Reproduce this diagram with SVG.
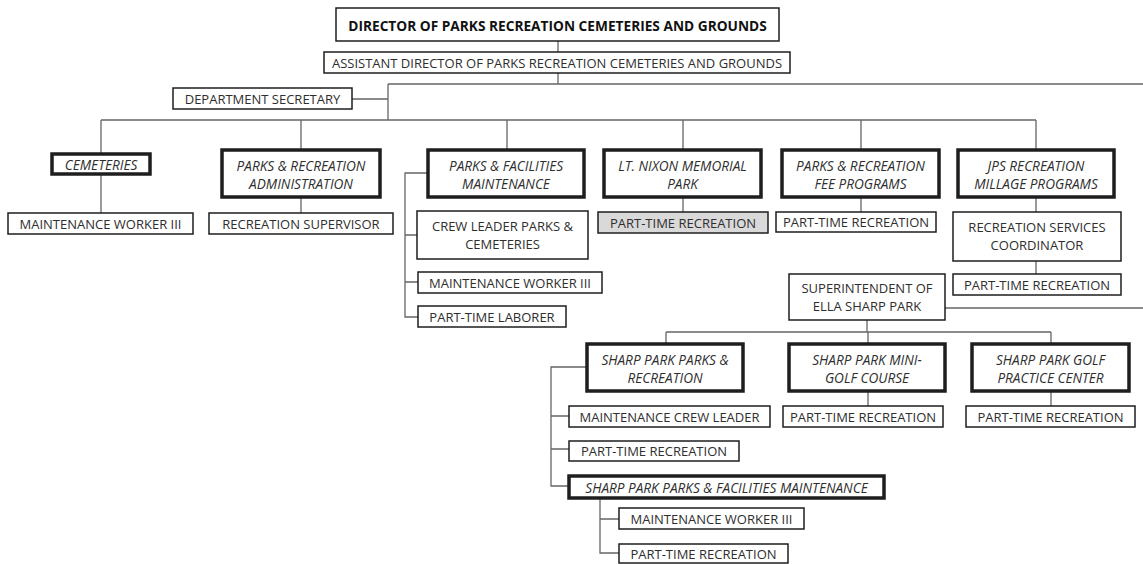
<svg xmlns="http://www.w3.org/2000/svg" width="1143" height="564" viewBox="0 0 1143 564">
<style>
.b{fill:#fff;stroke:#1e1e1e;stroke-width:1.5}
.k{stroke-width:3.5}
.g{fill:#d9d9d9}
.t{font-family:"Open Sans","Liberation Sans",sans-serif;font-size:13px;fill:#2e2e2e;text-anchor:middle;dominant-baseline:central}
.i{font-style:italic;font-size:13.6px}
.bd{font-weight:bold;font-size:13.7px;fill:#111}
.c{fill:none;stroke:#666;stroke-width:1.3}
</style>
<rect width="1143" height="564" fill="#fff"/>
<g id="connectors" class="c">
<path d="M558 41V52M558 73V84M388 84H1143M388 84V120M352 99H388M101 120H1036"/>
<path d="M101 120V154M301 120V150M507 120V150M683 120V150M861 120V150M1036 120V150"/>
<path d="M101 174V213M301 197V213M683 197V212M861 197V212M1036 197V212M1036 261V274"/>
<path d="M428 173H405V317H418M405 235H417M405 282H418"/>
<path d="M945 308H1143M867 320V332M666 332H1051M666 332V344M868 332V344M1051 332V344M868 391V406M1051 391V406"/>
<path d="M587 367H551V486H569M551 416H569M551 449H569M600 498V553H619M600 519H619"/>
</g>
<g id="director"><rect class="b" x="336" y="8" width="443" height="33"/><text class="t bd" x="557.5" y="25">DIRECTOR OF PARKS RECREATION CEMETERIES AND GROUNDS</text></g>
<g id="assistant"><rect class="b" x="324" y="52" width="466" height="21"/><text class="t" x="557" y="63">ASSISTANT DIRECTOR OF PARKS RECREATION CEMETERIES AND GROUNDS</text></g>
<g id="secretary"><rect class="b" x="173" y="88" width="179" height="21"/><text class="t" x="262.5" y="99">DEPARTMENT SECRETARY</text></g>
<g id="cemeteries"><rect class="b k" x="52" y="154" width="98" height="20"/><text class="t i" x="101" y="164">CEMETERIES</text></g>
<g id="pr-admin"><rect class="b k" x="222" y="150" width="158" height="47"/><text class="t i" x="301" y="165">PARKS &amp; RECREATION</text><text class="t i" x="301" y="183">ADMINISTRATION</text></g>
<g id="pf-maint"><rect class="b k" x="428" y="150" width="156" height="47"/><text class="t i" x="506" y="165">PARKS &amp; FACILITIES</text><text class="t i" x="506" y="183">MAINTENANCE</text></g>
<g id="nixon"><rect class="b k" x="604" y="150" width="157" height="47"/><text class="t i" x="682.5" y="165">LT. NIXON MEMORIAL</text><text class="t i" x="682.5" y="183">PARK</text></g>
<g id="fee"><rect class="b k" x="782" y="150" width="157" height="47"/><text class="t i" x="860.5" y="165">PARKS &amp; RECREATION</text><text class="t i" x="860.5" y="183">FEE PROGRAMS</text></g>
<g id="jps"><rect class="b k" x="958" y="150" width="156" height="47"/><text class="t i" x="1036" y="165">JPS RECREATION</text><text class="t i" x="1036" y="183">MILLAGE PROGRAMS</text></g>
<g id="mw3-a"><rect class="b" x="8" y="213" width="185" height="21"/><text class="t" x="100.5" y="223.5">MAINTENANCE WORKER III</text></g>
<g id="rec-sup"><rect class="b" x="209" y="213" width="184" height="21"/><text class="t" x="301" y="223.5">RECREATION SUPERVISOR</text></g>
<g id="crew-leader"><rect class="b" x="417" y="211" width="171" height="48"/><text class="t" x="502.5" y="226">CREW LEADER PARKS &amp;</text><text class="t" x="502.5" y="244">CEMETERIES</text></g>
<g id="mw3-b"><rect class="b" x="418" y="272" width="184" height="21"/><text class="t" x="510" y="282.5">MAINTENANCE WORKER III</text></g>
<g id="pt-laborer"><rect class="b" x="418" y="306" width="148" height="21"/><text class="t" x="492" y="316.5">PART-TIME LABORER</text></g>
<g id="pt-nixon"><rect class="b g" x="598" y="212" width="170" height="21"/><text class="t" x="683" y="222.5">PART-TIME RECREATION</text></g>
<g id="pt-fee"><rect class="b" x="776" y="212" width="160" height="20"/><text class="t" x="856" y="222">PART-TIME RECREATION</text></g>
<g id="rsc"><rect class="b" x="953" y="212" width="168" height="49"/><text class="t" x="1037" y="227">RECREATION SERVICES</text><text class="t" x="1037" y="245">COORDINATOR</text></g>
<g id="pt-jps"><rect class="b" x="953" y="274" width="168" height="21"/><text class="t" x="1037" y="284.5">PART-TIME RECREATION</text></g>
<g id="superintendent"><rect class="b" x="789" y="274" width="156" height="46"/><text class="t" x="867" y="288">SUPERINTENDENT OF</text><text class="t" x="867" y="306">ELLA SHARP PARK</text></g>
<g id="sp-pr"><rect class="b k" x="587" y="344" width="156" height="47"/><text class="t i" x="665" y="359">SHARP PARK PARKS &amp;</text><text class="t i" x="665" y="377">RECREATION</text></g>
<g id="sp-mini"><rect class="b k" x="789" y="344" width="156" height="47"/><text class="t i" x="867" y="359">SHARP PARK MINI-</text><text class="t i" x="867" y="377">GOLF COURSE</text></g>
<g id="sp-golf"><rect class="b k" x="972" y="344" width="157" height="47"/><text class="t i" x="1050.5" y="359">SHARP PARK GOLF</text><text class="t i" x="1050.5" y="377">PRACTICE CENTER</text></g>
<g id="pt-mini"><rect class="b" x="783" y="406" width="160" height="21"/><text class="t" x="863" y="416.5">PART-TIME RECREATION</text></g>
<g id="pt-golf"><rect class="b" x="966" y="406" width="169" height="21"/><text class="t" x="1050.5" y="416.5">PART-TIME RECREATION</text></g>
<g id="mcl"><rect class="b" x="569" y="406" width="201" height="21"/><text class="t" x="669.5" y="416.5">MAINTENANCE CREW LEADER</text></g>
<g id="pt-sp"><rect class="b" x="569" y="441" width="170" height="20"/><text class="t" x="654" y="451">PART-TIME RECREATION</text></g>
<g id="sp-pfm"><rect class="b k" x="569" y="476" width="315" height="22"/><text class="t i" x="726.5" y="487">SHARP PARK PARKS &amp; FACILITIES MAINTENANCE</text></g>
<g id="mw3-c"><rect class="b" x="619" y="508" width="185" height="21"/><text class="t" x="711.5" y="518.5">MAINTENANCE WORKER III</text></g>
<g id="pt-c"><rect class="b" x="619" y="544" width="169" height="19"/><text class="t" x="703.5" y="553.5">PART-TIME RECREATION</text></g>
</svg>
